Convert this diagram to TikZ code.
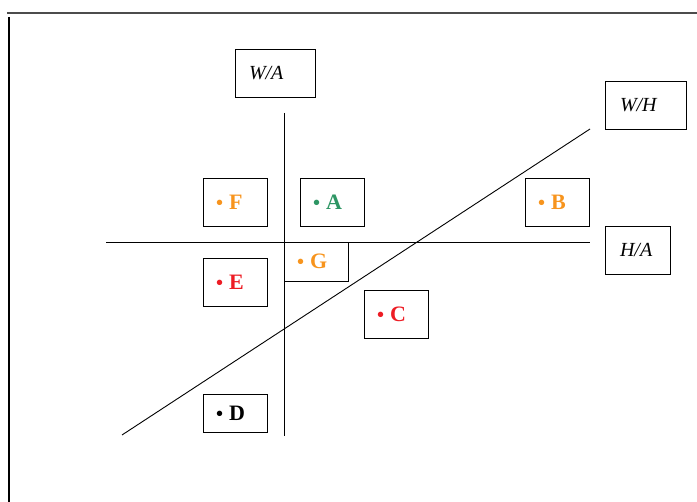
\documentclass[tikz,border=0pt]{standalone}
\usepackage{fontspec}
\setmainfont{Liberation Serif}
\usetikzlibrary{positioning}

\definecolor{ptorange}{RGB}{247,148,29}
\definecolor{ptgreen}{RGB}{46,150,100}
\definecolor{ptred}{RGB}{237,28,36}

\newcommand{\ptdot}{{\fontsize{20}{20}\selectfont\textbullet}\hspace{6pt}}

\begin{document}
\begin{tikzpicture}[
  x=1pt, y=-1pt,
  box/.style={draw, line width=0.9pt, inner xsep=14pt, inner ysep=0pt, align=left,
    text width=36pt, minimum height=48pt},
  axislabel/.style={box, font=\fontsize{20}{22}\selectfont\itshape},
  point/.style={box, inner xsep=13pt, text width=38pt, font=\fontsize{22}{24}\selectfont\bfseries},
  axis/.style={-, line width=0.9pt}]

  \useasboundingbox (0,0) rectangle (697,502);

  % frame lines at the top and on the left
  \coordinate (frame-tl) at (7,13);
  \coordinate (frame-tr) at (697,13);
  \coordinate (frame-t) at (9,17);
  \coordinate (frame-b) at (9,502);
  \draw[axis, line width=1.2pt, black!70] (frame-tl) -- (frame-tr);
  \draw[axis, line width=1.2pt] (frame-t) -- (frame-b);

  % ratio labels
  \node[axislabel, text width=52pt] (wa) at (275,73) {W/A};
  \node[axislabel, inner xsep=15pt, text width=51pt] (wh) at (645.5,105) {W/H};
  \node[axislabel, inner xsep=15pt, text width=35pt] (ha) at (637.5,250) {H/A};

  % the three axes
  \coordinate (va-top) at (284,113);
  \coordinate (va-bot) at (284,436);
  \coordinate (ha-left) at (106,242);
  \coordinate (ha-right) at (590,242);
  \coordinate (wh-low) at (122,435);
  \coordinate (wh-high) at (590,129);
  \draw[axis] (va-top) -- (va-bot);
  \draw[axis] (ha-left) -- (ha-right);
  \draw[axis] (wh-low) -- (wh-high);

  % the points
  \node[point, text=ptorange] (F) at (235,202) {\ptdot F};
  \node[point, text=ptgreen] (A) at (332,202) {\ptdot A};
  \node[point, text=ptorange] (B) at (557,202) {\ptdot B};
  \node[point, text=ptred] (E) at (235,282) {\ptdot E};
  \node[point, text=ptorange, minimum height=39pt] (G) at (316,261.5) {\ptdot G};
  \node[point, text=ptred] (C) at (396,314) {\ptdot C};
  \node[point, minimum height=38pt] (D) at (235,413) {\ptdot D};

\end{tikzpicture}
\end{document}
